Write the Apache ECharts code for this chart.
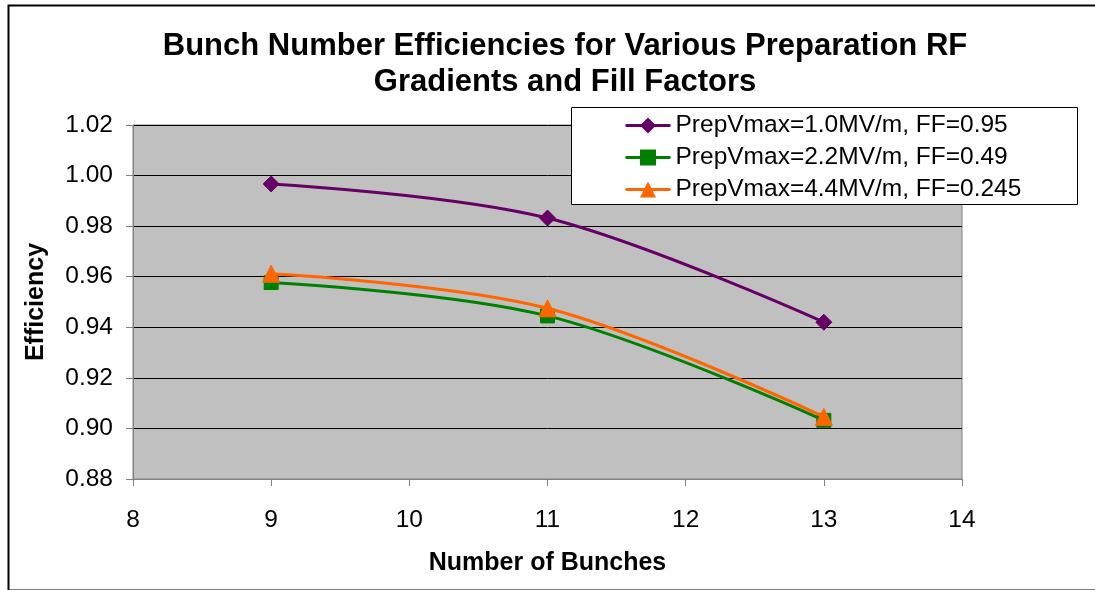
<!DOCTYPE html>
<html>
<head>
<meta charset="utf-8">
<script src="https://cdn.jsdelivr.net/npm/echarts@6/dist/echarts.min.js"></script>
<style>
html,body{margin:0;padding:0;background:#fff;}
#c{width:1095px;height:590px;}
</style>
</head>
<body>
<div id="c"></div>
<script>
var xValues = [9, 11, 13];
var seriesNames = ['PrepVmax=1.0MV/m, FF=0.95', 'PrepVmax=2.2MV/m, FF=0.49', 'PrepVmax=4.4MV/m, FF=0.245'];
var s1 = [0.9967, 0.9832, 0.9420];
var s2 = [0.9577, 0.9445, 0.9032];
var s3 = [0.9612, 0.9475, 0.9046];
var colors = ['#660066', '#008000', '#FF6600'];
var symbols = ['diamond', 'rect', 'triangle'];
var symbolSizes = [16, 14, 17];
var titleText = 'Bunch Number Efficiencies for Various Preparation RF\nGradients and Fill Factors';

var font = '"Liberation Sans", Arial, sans-serif';
function pairs(ys){ return xValues.map(function(x,i){ return [x, ys[i]]; }); }
var allY = [s1, s2, s3];

var chart = echarts.init(document.getElementById('c'), null, {renderer:'canvas'});
chart.setOption({
  animation: false,
  backgroundColor: '#fff',
  textStyle: {fontFamily: font},
  graphic: [
    {type:'rect', left:6, top:3, shape:{x:0,y:0,width:1100,height:585}, style:{fill:'none', stroke:'#000', lineWidth:2}, z:-10},
    {type:'rect', left:571, top:107, shape:{x:0,y:0,width:506,height:97}, style:{fill:'#fff', stroke:'#000', lineWidth:1}, z:5}
  ],
  title: {
    text: titleText,
    left: 560, top: 23, textAlign: 'center',
    textStyle: {fontFamily: font, fontSize: 31, fontWeight: 'bold', color: '#000', lineHeight: 36}
  },
  legend: {
    orient: 'vertical', left: 619, top: 108, padding: 5,
    itemWidth: 45, itemHeight: 20, itemGap: 7,
    lineStyle: {width: 3},
    textStyle: {fontFamily: font, fontSize: 24.5, color: '#000', lineHeight: 24},
    z: 10
  },
  grid: {left: 133, right: 133, top: 125, bottom: 111, show: true, backgroundColor: '#C0C0C0', borderColor: '#808080', borderWidth: 1},
  xAxis: {
    type: 'value', min: 8, max: 14, interval: 1,
    name: 'Number of Bunches', nameLocation: 'middle', nameGap: 72,
    nameTextStyle: {fontFamily: font, fontSize: 25, fontWeight: 'bold', color: '#000'},
    axisLine: {show: true, lineStyle: {color: '#808080', width: 1}},
    axisTick: {show: true, length: 7, lineStyle: {color: '#808080'}},
    axisLabel: {fontFamily: font, fontSize: 24.5, color: '#000', margin: 29},
    splitLine: {show: false}
  },
  yAxis: {
    type: 'value', min: 0.88, max: 1.02, interval: 0.02,
    name: 'Efficiency', nameLocation: 'middle', nameGap: 84,
    nameTextStyle: {fontFamily: font, fontSize: 25, fontWeight: 'bold', color: '#000'},
    axisLine: {show: true, lineStyle: {color: '#808080', width: 1}},
    axisTick: {show: true, length: 7, lineStyle: {color: '#808080'}},
    axisLabel: {fontFamily: font, fontSize: 24.5, color: '#000', margin: 20, formatter: function(v){ return v.toFixed(2); }},
    splitLine: {show: true, lineStyle: {color: '#000', width: 1}}
  },
  series: seriesNames.map(function(n, i){
    return {
      name: n, type: 'line', data: pairs(allY[i]), smooth: 0.35,
      symbol: symbols[i], symbolSize: symbolSizes[i],
      lineStyle: {color: colors[i], width: 3},
      itemStyle: {color: colors[i], borderColor: colors[i]},
      z: 3 + i
    };
  })
});
</script>
</body>
</html>
